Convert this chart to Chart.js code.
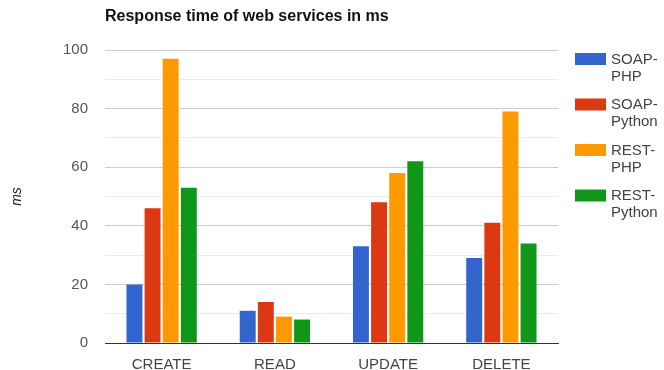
<!DOCTYPE html>
<html>
<head>
<meta charset="utf-8">
<script src="https://cdn.jsdelivr.net/npm/chart.js@4"></script>
<style>
  html, body { margin: 0; padding: 0; background: #fff; }
  .chart-wrap { width: 664px; height: 370px; }
</style>
</head>
<body>
<div class="chart-wrap"><canvas class="main-canvas"></canvas></div>
<script>
const operations = ["CREATE", "READ", "UPDATE", "DELETE"];
const seriesNames = ["SOAP-PHP", "SOAP-Python", "REST-PHP", "REST-Python"];
const soapPhp = [20, 11, 33, 29];
const soapPython = [46, 14, 48, 41];
const restPhp = [97, 9, 58, 79];
const restPython = [53, 8, 62, 34];
const yTicks = [0, 20, 40, 60, 80, 100];

const colors = ["#3366CC", "#DC3912", "#FF9900", "#109618"];
const FONT = "Arial, 'Liberation Sans', sans-serif";

// title and wrapped legend drawn by hand, Chart.js legend can't wrap "SOAP-\nPHP"
const sideLegend = {
  id: "sideLegend",
  afterDraw(chart) {
    const ctx = chart.ctx;
    ctx.save();
    ctx.fillStyle = "#111";
    ctx.font = "bold 16px " + FONT;
    ctx.textBaseline = "middle";
    ctx.textAlign = "left";
    ctx.fillText("Response time of web services in ms", chart.chartArea.left, 17);

    ctx.font = "15px " + FONT;
    ctx.textBaseline = "top";
    chart.data.datasets.forEach((ds, i) => {
      const top = 53 + i * 45.5;
      ctx.fillStyle = ds.backgroundColor;
      ctx.fillRect(575, top, 31, 12);
      ctx.fillStyle = "#444";
      const parts = ds.label.split("-");
      ctx.fillText(parts[0] + "-", 611, top - 1);
      ctx.fillText(parts[1], 611, top + 16);
    });
    ctx.restore();
  }
};

const ctx = document.querySelector(".main-canvas").getContext("2d");

new Chart(ctx, {
  type: "bar",
  data: {
    labels: operations,
    datasets: [soapPhp, soapPython, restPhp, restPython].map((vals, i) => ({
      label: seriesNames[i],
      data: vals,
      backgroundColor: colors[i],
      borderWidth: 0,
      categoryPercentage: 0.64,
      barPercentage: 0.88,
    })),
  },
  options: {
    responsive: true,
    maintainAspectRatio: false,
    animation: false,
    layout: {
      padding: { top: 50, left: 0, right: 106, bottom: 0 }
    },
    plugins: {
      legend: { display: false },
      tooltip: { enabled: false },
    },
    scales: {
      x: {
        afterFit: (scale) => { scale.height = 27; },
        ticks: {
          color: "#444",
          padding: 5,
          font: { size: 15, family: FONT },
        },
        grid: { display: false },
        border: { color: "#333", width: 1 },
      },
      y: {
        min: 0,
        max: 100,
        afterFit: (scale) => { scale.width = 105; },
        afterBuildTicks: (scale) => {
          const t = [];
          for (let v = 0; v <= 100; v += 10) t.push({ value: v });
          scale.ticks = t;
        },
        ticks: {
          color: "#555",
          padding: 17,
          font: { size: 15, family: FONT },
          callback: (v) => (yTicks.includes(v) ? String(v) : ""),
        },
        grid: {
          drawTicks: false,
          color: (c) => (c.tick && c.tick.value % 20 === 0 ? "#cccccc" : "#ebebeb"),
        },
        border: { display: false },
        title: {
          display: true,
          text: "ms",
          color: "#222",
          padding: { top: 9, bottom: 0 },
          font: { size: 14, style: "italic", family: FONT },
        },
      },
    },
  },
  plugins: [sideLegend],
});
</script>
</body>
</html>
